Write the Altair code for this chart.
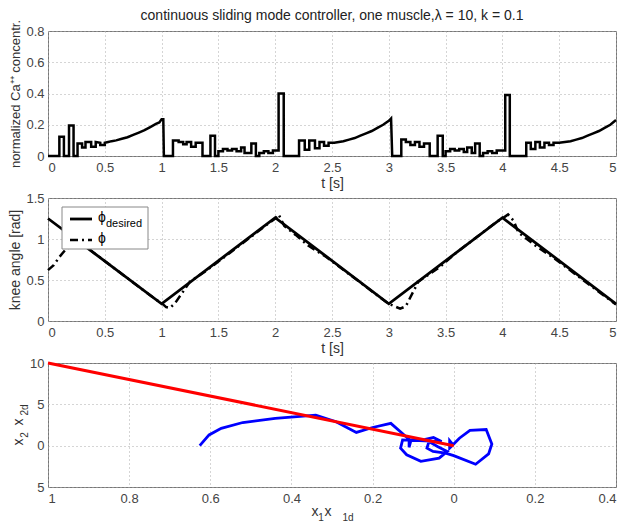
import altair as alt
import pandas as pd

# ---------------- data ----------------
# Panel 1: normalized Ca++ concentration
ca_t = [0, 0.10, 0.10, 0.14, 0.14, 0.185, 0.185, 0.225, 0.225, 0.26, 0.26, 0.30, 0.30, 0.33, 0.33, 0.38, 0.38, 0.42, 0.42, 0.46, 0.46, 0.50, 0.50,
        0.53, 0.56, 0.60, 0.65, 0.70, 0.75, 0.80, 0.85, 0.90, 0.95, 0.98, 1.00, 1.015, 1.02,
        1.10, 1.10, 1.15, 1.15, 1.19, 1.19, 1.22, 1.22, 1.26, 1.26, 1.30, 1.30, 1.36, 1.36, 1.43, 1.43, 1.47, 1.47, 1.50, 1.50,
        1.54, 1.54, 1.58, 1.58, 1.62, 1.62, 1.66, 1.66, 1.70, 1.70, 1.73, 1.73, 1.79, 1.79, 1.83, 1.83, 1.86, 1.86,
        1.90, 1.90, 1.94, 1.94, 1.98, 1.98, 2.03, 2.03, 2.075, 2.075,
        2.21, 2.21, 2.26, 2.26, 2.30, 2.30, 2.35, 2.35, 2.39, 2.39, 2.43, 2.43, 2.47, 2.47, 2.52,
        2.56, 2.60, 2.65, 2.70, 2.75, 2.80, 2.85, 2.90, 2.95, 3.00, 3.02, 3.03,
        3.11, 3.11, 3.15, 3.15, 3.19, 3.19, 3.23, 3.23, 3.27, 3.27, 3.31, 3.31, 3.36, 3.36, 3.43, 3.43, 3.475, 3.475, 3.50, 3.50,
        3.54, 3.54, 3.58, 3.58, 3.62, 3.62, 3.66, 3.66, 3.69, 3.69, 3.73, 3.73, 3.76, 3.76, 3.80, 3.80, 3.83, 3.83,
        3.87, 3.87, 3.91, 3.91, 3.95, 3.95, 4.025, 4.025, 4.065, 4.065,
        4.21, 4.21, 4.25, 4.25, 4.29, 4.29, 4.33, 4.33, 4.37, 4.37, 4.41, 4.41, 4.45, 4.45, 4.50,
        4.55, 4.60, 4.65, 4.70, 4.75, 4.80, 4.85, 4.90, 4.95, 5.00]
ca_v = [0, 0, 0.124, 0.124, 0, 0, 0.196, 0.196, 0, 0, 0.08, 0.08, 0.055, 0.055, 0.09, 0.09, 0.06, 0.06, 0.09, 0.085, 0.07, 0.07, 0.085,
        0.09, 0.095, 0.10, 0.11, 0.12, 0.135, 0.15, 0.165, 0.185, 0.205, 0.215, 0.235, 0.235, 0,
        0, 0.10, 0.10, 0.09, 0.09, 0.075, 0.075, 0.09, 0.09, 0.06, 0.06, 0.085, 0.085, 0, 0, 0.13, 0.13, 0, 0, 0.03,
        0.03, 0.045, 0.045, 0.035, 0.035, 0.045, 0.045, 0.03, 0.03, 0.055, 0.055, 0.02, 0.02, 0.08, 0.08, 0, 0, 0.02,
        0.02, 0.03, 0.03, 0.02, 0.02, 0.035, 0.035, 0.40, 0.40, 0,
        0, 0.10, 0.10, 0.04, 0.04, 0.10, 0.10, 0.05, 0.05, 0.09, 0.09, 0.065, 0.065, 0.085, 0.085,
        0.09, 0.095, 0.105, 0.115, 0.13, 0.145, 0.16, 0.18, 0.20, 0.225, 0.24, 0,
        0, 0.105, 0.105, 0.09, 0.09, 0.07, 0.07, 0.09, 0.09, 0.06, 0.06, 0.08, 0.08, 0, 0, 0.13, 0.13, 0, 0, 0.03,
        0.03, 0.045, 0.045, 0.035, 0.035, 0.045, 0.045, 0.025, 0.025, 0.055, 0.055, 0.02, 0.02, 0.08, 0.08, 0, 0, 0.02,
        0.02, 0.03, 0.03, 0.02, 0.02, 0.035, 0.035, 0.39, 0.39, 0,
        0, 0.085, 0.085, 0.045, 0.045, 0.09, 0.09, 0.055, 0.055, 0.085, 0.085, 0.07, 0.07, 0.085, 0.085,
        0.09, 0.095, 0.105, 0.115, 0.13, 0.145, 0.16, 0.18, 0.20, 0.23]

# Panel 2: knee angle
des_t = [0, 1, 2, 3, 4, 5]
des_v = [1.25, 0.21, 1.26, 0.21, 1.26, 0.21]
act_t = [0, 0.05, 0.10, 0.16, 0.22, 0.30, 0.95, 1.0, 1.04, 1.075, 1.12, 1.25, 1.4, 1.6, 1.95, 2.0, 2.03, 2.08, 2.18, 2.29, 2.45,
         2.95, 3.0, 3.05, 3.1, 3.15, 3.26, 3.45, 3.6, 3.95, 4.0, 4.05, 4.1, 4.14, 4.3, 4.45, 5.0]
act_v = [0.62, 0.68, 0.78, 0.88, 0.92, 0.94, 0.26, 0.22, 0.17, 0.16, 0.22, 0.48, 0.62, 0.83, 1.2, 1.25, 1.30, 1.16, 1.05, 0.92, 0.78,
         0.26, 0.21, 0.18, 0.15, 0.18, 0.48, 0.66, 0.84, 1.21, 1.25, 1.30, 1.22, 1.08, 0.91, 0.77, 0.20]

# Panel 3: phase plane
traj_x1 = [-0.626, -0.603, -0.573, -0.52, -0.44, -0.34, -0.29, -0.24, -0.20, -0.155, -0.12, -0.11, -0.11, -0.105, -0.07, -0.05, -0.03,
           -0.126, -0.131, -0.116, -0.081, -0.036, -0.016, -0.04, -0.061, -0.066, -0.051, -0.02, 0.0, 0.054, 0.086, 0.094, 0.08,
           0.04, 0.014, 0.0, -0.01, -0.01, 0.0]
traj_x2 = [0.0, 1.3, 2.1, 2.8, 3.3, 3.7, 2.9, 1.6, 2.2, 2.7, 1.2, 0.8, -0.2, 0.7, 0.75, 1.0, 0.5,
           0.7, -0.3, -1.1, -1.9, -1.5, -0.7, -0.1, 0.5, -0.3, -0.7, -0.9, -1.2, -2.25, -1.0, 0.2, 1.95,
           1.85, 0.9, 0.2, -0.3, 0.6, 0.0]
surf_x1 = [-1.0, 0.0]
surf_x2 = [10.0, 0.0]

TITLE = "continuous sliding mode controller, one muscle,λ = 10, k = 0.1"
FONT = "Liberation Sans, Arial, sans-serif"
W = 568

ca_df = pd.DataFrame({"t": ca_t, "v": ca_v, "i": range(len(ca_t))})
des_df = pd.DataFrame({"t": des_t, "v": des_v})
act_df = pd.DataFrame({"t": act_t, "v": act_v})
traj_df = pd.DataFrame({"x1": traj_x1, "x2": traj_x2, "i": range(len(traj_x1))})
surf_df = pd.DataFrame({"x1": surf_x1, "x2": surf_x2})
one = pd.DataFrame({"a": [0]})


def txt(x, y, s, size, angle=0, align="center", color="#333"):
    kw = dict(align=align, baseline="middle", fontSize=size, font=FONT, color=color)
    if angle:
        kw["angle"] = angle
    return alt.Chart(one).mark_text(**kw).encode(x=alt.value(x), y=alt.value(y), text=alt.value(s))


def xaxis_t():
    return alt.Axis(values=[0, 0.5, 1, 1.5, 2, 2.5, 3, 3.5, 4, 4.5, 5], labelExpr="format(datum.value, '~g')", title="t [s]")

tscale = alt.Scale(domain=[0, 5], nice=False, zero=False)

# ---- panel 1 ----
l_ca = alt.Chart(ca_df).mark_line(color="black", strokeWidth=2.5).encode(
    x=alt.X("t:Q", scale=tscale, axis=xaxis_t()),
    y=alt.Y("v:Q", scale=alt.Scale(domain=[0, 0.8], nice=False),
            axis=alt.Axis(values=[0, 0.2, 0.4, 0.6, 0.8], labelExpr="format(datum.value, '~g')",
                          title="normalized Ca⁺⁺ concentr.", titleFontSize=13)),
    order="i:Q",
)
main_title = txt(W / 2, -15, TITLE, 14, color="#222")
p1 = alt.layer(l_ca, main_title).properties(width=W, height=125)

# ---- panel 2 ----
yax2 = alt.Axis(values=[0, 0.5, 1, 1.5], labelExpr="format(datum.value, '~g')", title="knee angle [rad]")
yscale2 = alt.Scale(domain=[0, 1.5], nice=False)
l_des = alt.Chart(des_df).mark_line(color="black", strokeWidth=2.8).encode(
    x=alt.X("t:Q", scale=tscale, axis=xaxis_t()), y=alt.Y("v:Q", scale=yscale2, axis=yax2))
l_act = alt.Chart(act_df).mark_line(color="black", strokeWidth=2.5, strokeDash=[8, 4, 2, 4]).encode(
    x="t:Q", y="v:Q")
leg_box = alt.Chart(one).mark_rect(fill="white", stroke="#888", strokeWidth=1).encode(
    x=alt.value(14), x2=alt.value(100), y=alt.value(9), y2=alt.value(51))
leg_l1 = alt.Chart(one).mark_rule(color="black", strokeWidth=2.8).encode(
    x=alt.value(22), x2=alt.value(44), y=alt.value(21))
leg_l2 = alt.Chart(one).mark_rule(color="black", strokeWidth=2.5, strokeDash=[8, 4, 2, 4]).encode(
    x=alt.value(22), x2=alt.value(44), y=alt.value(42))
leg_t1 = txt(50, 20, "ϕ", 14, align="left", color="black")
leg_t1b = txt(58, 26, "desired", 11, align="left", color="black")
leg_t2 = txt(50, 41, "ϕ", 14, align="left", color="black")
p2 = alt.layer(l_des, l_act, leg_box, leg_l1, leg_l2, leg_t1, leg_t1b, leg_t2).properties(width=W, height=123)

# ---- panel 3 ----
xs3 = alt.Scale(domain=[-1, 0.4], nice=False, zero=False)
ys3 = alt.Scale(domain=[-5, 10], nice=False, zero=False)
l_traj = alt.Chart(traj_df).mark_line(color="#0000ff", strokeWidth=2.8).encode(
    x=alt.X("x1:Q", scale=xs3, axis=alt.Axis(values=[-1, -0.8, -0.6, -0.4, -0.2, 0, 0.2, 0.4],
                                               labelExpr="format(abs(datum.value), '~g')", title=None)),
    y=alt.Y("x2:Q", scale=ys3, axis=alt.Axis(values=[-5, 0, 5, 10],
                                              labelExpr="format(abs(datum.value), '~g')", title=None)),
    order="i:Q",
)
l_surf = alt.Chart(surf_df).mark_line(color="#ff0000", strokeWidth=3).encode(x="x1:Q", y="x2:Q")

xt = [txt(267, 149, "x", 14), txt(273, 155, "1", 10), txt(280, 149, "x", 14), txt(300, 155, "1d", 10)]
yt = [txt(-29, 79, "x", 14, 270), txt(-23, 72, "2", 10, 270), txt(-29, 59, "x", 14, 270), txt(-23, 47, "2d", 10, 270)]
p3 = alt.layer(l_traj, l_surf, *xt, *yt).properties(width=W, height=124)

chart = alt.vconcat(p1, p2, p3, spacing=0).properties(
    padding={"left": 0, "top": 0, "right": 5, "bottom": 0},
).configure(font=FONT).configure_view(
    stroke="#777", strokeWidth=1
).configure_axis(
    grid=True, gridDash=[1, 3], gridColor="#aaa", gridWidth=1,
    ticks=False, domain=False, labelFont=FONT, labelFontSize=13, labelColor="#444", labelPadding=4,
    titleFont=FONT, titleFontSize=14, titleFontWeight="normal", titleColor="#333", titlePadding=3,
).configure_axisX(labelPadding=5, titlePadding=2)

chart.save("out.html", embed_options={"renderer": "svg", "actions": False})
